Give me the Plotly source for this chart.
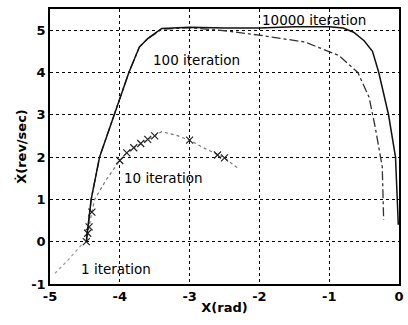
import plotly.graph_objects as go

# 1 iteration
x1 = [-4.93, -4.75, -4.52]
y1 = [-0.75, -0.45, -0.02]

# 10 iteration
x10 = [-4.48, -4.46, -4.44, -4.40, -4.36, -4.2, -4.0, -3.9, -3.8, -3.7, -3.6, -3.5, -3.4, -3.2, -3.0, -2.8, -2.6, -2.5, -2.31]
y10 = [0.0, 0.2, 0.35, 0.7, 1.0, 1.45, 1.92, 2.1, 2.22, 2.32, 2.42, 2.5, 2.6, 2.52, 2.4, 2.22, 2.05, 1.98, 1.74]
m10 = [True, True, True, True, False, False, True, True, True, True, True, True, False, False, True, False, True, True, False]

# 100 iteration
x100 = [-4.48, -4.41, -4.29, -4.08, -3.87, -3.72, -3.6, -3.4, -3.0, -2.46, -2.0, -1.35, -0.86, -0.59, -0.43, -0.34, -0.24, -0.22]
y100 = [0.0, 1.0, 2.0, 3.0, 4.0, 4.6, 4.8, 5.02, 5.06, 4.98, 4.88, 4.72, 4.4, 4.0, 3.42, 2.7, 1.77, 0.52]

# 10000 iteration
x10000 = [-4.48, -4.41, -4.29, -4.08, -3.87, -3.72, -3.6, -3.4, -3.0, -2.5, -2.0, -1.5, -1.0, -0.8, -0.65, -0.5, -0.38, -0.29, -0.15, -0.05, -0.02, -0.01]
y10000 = [0.0, 1.0, 2.0, 3.0, 4.0, 4.6, 4.8, 5.04, 5.07, 5.05, 5.05, 5.08, 5.08, 5.05, 4.95, 4.75, 4.5, 4.0, 3.0, 2.0, 1.0, 0.4]

labels = ["10000 iteration", "100 iteration", "10 iteration", "1 iteration"]
label_x = [-1.99, -3.56, -3.97, -4.58]
label_y = [5.24, 4.29, 1.51, -0.64]

fnt = "DejaVu Sans"
fig = go.Figure()
fig.add_trace(go.Scatter(x=x1, y=y1, mode="lines", line=dict(color="#999999", width=1.2, dash="dot")))
fig.add_trace(go.Scatter(x=x10, y=y10, mode="lines", line=dict(color="#777777", width=1.2, dash="dot")))
fig.add_trace(go.Scatter(x=[a for a, m in zip(x10, m10) if m], y=[b for b, m in zip(y10, m10) if m],
                         mode="markers", marker=dict(symbol="x-thin-open", size=7, color="#222222",
                                                     line=dict(color="#222222", width=1.2))))
fig.add_trace(go.Scatter(x=x100, y=y100, mode="lines", line=dict(color="#333333", width=1.3, dash="dashdot")))
fig.add_trace(go.Scatter(x=x10000, y=y10000, mode="lines", line=dict(color="#111111", width=1.5)))

for t, lx, ly in zip(labels, label_x, label_y):
    fig.add_annotation(x=lx, y=ly, text=t, showarrow=False, xanchor="left", yanchor="middle",
                       font=dict(family=fnt, size=13.5, color="black"))

axis_common = dict(showgrid=True, gridcolor="black", griddash="dot", gridwidth=1,
                   showline=True, linecolor="black", linewidth=1.5, mirror=True,
                   zeroline=False, ticks="", tickfont=dict(family=fnt, size=13, color="black"))
fig.update_xaxes(range=[-5, 0], tickvals=[-5, -4, -3, -2, -1, 0], ticktext=["<b>-5</b>", "<b>-4</b>", "<b>-3</b>", "<b>-2</b>", "<b>-1</b>", "<b>0</b>"],
                 title=dict(text="<b>X(rad)</b>", font=dict(family=fnt, size=13, color="black"), standoff=0), **axis_common)
fig.update_yaxes(range=[-1, 5.5], tickvals=[-1, 0, 1, 2, 3, 4, 5], ticktext=["<b>-1</b>", "<b>0</b>", "<b>1</b>", "<b>2</b>", "<b>3</b>", "<b>4</b>", "<b>5</b>"],
                 title=dict(text="<b>Ẋ(rev/sec)</b>", font=dict(family=fnt, size=13, color="black"), standoff=2), **axis_common)

fig.update_layout(width=408, height=325, margin=dict(l=50, r=4, t=9, b=41),
                  paper_bgcolor="white", plot_bgcolor="white", showlegend=False)
fig.write_html("out.html")
